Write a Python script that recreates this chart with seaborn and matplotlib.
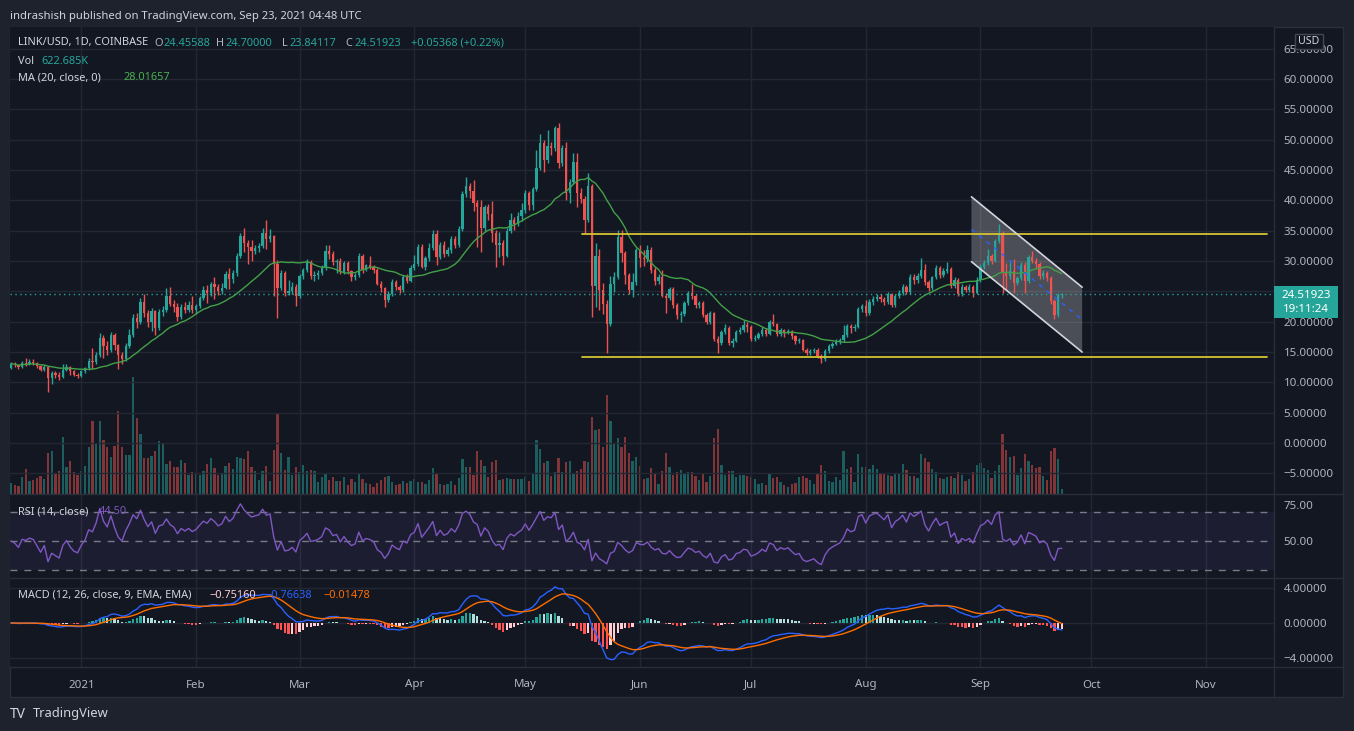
import numpy as np
import pandas as pd
import matplotlib
matplotlib.use("Agg")
import matplotlib.pyplot as plt
import matplotlib.dates as mdates
from matplotlib.patches import Rectangle, Polygon
from matplotlib.lines import Line2D
from matplotlib.ticker import FixedLocator, FuncFormatter
import seaborn as sns

# ---------------- data (LINK/USD daily, Coinbase) ----------------
start_date = "2020-12-13"
first_open = 12.4
close = [13.1,12.9,12.5,13.2,13.1,13.3,13.2,12.7,12.1,12.6,
         10.8,11.5,11.2,10.9,12.0,12.5,11.8,11.3,11.1,11.8,
         12.3,13.5,13.3,14.5,17.4,16.0,15.3,17.8,16.1,14.5,
         13.8,16.0,17.8,20.7,20.0,23.3,21.5,20.0,21.7,19.0,
         21.6,22.0,24.3,23.0,22.4,20.8,22.5,21.9,22.7,22.0,
         22.6,23.9,25.2,24.8,26.3,25.8,25.0,25.6,27.9,27.0,
         28.0,30.9,34.1,33.0,32.3,31.7,32.1,32.5,34.6,33.6,
         34.1,29.5,25.6,28.0,24.8,25.0,25.8,24.2,27.5,28.5,
         29.9,27.5,27.7,28.1,28.9,31.7,31.2,29.8,30.1,28.2,
         29.7,28.3,27.3,27.7,30.9,28.6,29.3,29.0,28.5,26.3,
         25.5,23.6,24.6,26.6,25.8,25.3,27.3,26.8,28.9,29.6,
         32.3,29.0,30.5,32.2,34.5,30.7,32.7,31.2,31.8,33.6,
         32.7,35.3,41.1,42.4,41.6,39.6,38.9,35.4,38.9,37.7,
         34.6,32.6,33.0,30.9,35.0,36.8,36.1,37.5,38.5,41.2,
         39.3,41.9,45.4,49.5,46.7,48.9,48.6,52.0,46.1,48.7,
         41.2,43.1,46.4,41.2,40.2,36.8,42.4,25.9,30.8,25.2,
         22.9,19.7,26.2,27.4,33.9,31.4,27.7,25.2,26.6,31.8,
         30.5,30.3,31.9,28.6,26.7,27.4,24.3,23.9,25.4,22.8,
         21.1,21.3,23.1,24.8,24.2,22.7,23.1,21.1,20.0,21.4,
         17.1,16.5,18.3,19.0,16.5,16.8,18.3,18.6,19.5,19.2,
         17.1,17.4,17.9,18.7,18.0,20.0,19.6,18.0,18.6,18.2,
         18.5,17.6,16.8,17.0,15.4,14.9,15.1,15.3,14.4,13.9,
         15.2,16.0,16.4,16.7,17.0,17.8,19.3,18.9,19.2,22.1,
         22.6,21.5,23.3,23.8,24.1,23.7,23.3,24.5,22.8,24.2,
         24.8,25.8,24.9,27.4,26.9,27.6,28.5,26.5,25.5,27.3,
         28.9,27.7,28.3,28.7,25.9,26.9,24.6,25.8,25.3,25.8,
         24.8,26.9,29.1,29.7,30.9,30.1,33.3,34.6,28.2,27.5,
         28.3,26.4,27.2,29.4,26.8,30.6,30.1,29.5,27.5,28.1,
         27.2,23.4,21.1,24.45588,24.51923]
high = [13.4,13.3,13.0,13.5,14.0,13.8,13.8,13.4,12.9,12.9,
        12.7,11.8,11.9,11.7,13.0,13.0,12.7,12.0,11.5,12.0,
        12.5,14.0,15.6,15.0,18.2,17.8,16.9,18.3,18.2,16.4,
        15.0,16.5,18.8,21.2,21.4,23.9,24.5,22.0,22.3,22.0,
        22.1,22.6,25.5,25.8,23.6,23.1,23.0,23.2,23.4,24.3,
        23.0,24.2,25.9,26.1,26.6,27.4,26.3,26.4,28.4,28.8,
        28.5,31.3,34.6,35.4,33.5,33.4,32.6,33.0,35.4,36.7,
        35.3,34.3,30.2,28.6,28.3,26.9,26.5,26.3,27.9,28.9,
        30.4,30.2,28.3,28.6,29.3,32.6,32.6,31.6,30.4,30.5,
        30.0,30.0,28.6,28.1,31.4,31.1,29.6,30.8,29.4,28.8,
        26.8,25.8,25.0,27.0,26.9,26.1,27.7,27.8,29.3,31.0,
        32.8,32.8,30.9,33.0,35.2,35.2,33.1,33.3,32.4,34.1,
        34.1,35.8,41.6,43.8,42.9,43.4,40.0,40.0,39.2,39.4,
        39.9,35.2,34.8,33.4,35.4,38.0,37.2,38.1,39.6,41.8,
        41.6,42.3,48.3,51.0,49.9,51.6,49.6,52.3,52.8,49.2,
        49.6,43.5,47.8,47.8,42.0,40.8,44.6,42.7,33.0,32.0,
        26.4,23.6,27.6,28.2,35.1,35.1,31.7,28.1,28.0,32.2,
        32.7,31.8,32.6,32.3,29.0,27.9,28.5,24.8,25.8,25.7,
        23.1,21.7,23.5,25.1,26.3,24.5,23.5,23.4,21.4,21.8,
        21.6,17.6,18.6,19.6,19.3,17.4,18.6,19.2,20.3,19.9,
        19.4,17.8,18.3,19.1,18.9,20.3,21.3,19.8,18.9,18.8,
        18.8,18.6,17.8,17.3,17.2,15.7,15.5,15.6,15.6,14.7,
        15.5,16.4,16.7,17.2,17.4,19.5,19.6,19.6,19.6,22.5,
        23.0,23.6,23.7,24.2,24.6,24.5,24.0,24.9,24.8,24.5,
        25.2,26.2,26.1,27.8,27.9,28.1,30.5,29.6,26.9,27.6,
        29.3,29.2,28.8,29.8,29.0,27.3,27.2,26.2,26.1,26.2,
        26.0,27.3,29.6,30.2,32.0,31.2,33.7,36.1,34.9,29.7,
        29.8,30.3,27.6,29.9,29.9,31.0,31.6,30.5,29.8,28.6,
        28.4,27.5,23.7,24.8,24.70]
low = [12.2,12.6,12.2,12.3,12.7,12.9,12.9,12.4,11.8,11.9,
       8.5,9.8,10.8,10.4,10.7,11.8,11.2,11.0,10.8,10.9,
       11.5,12.0,12.2,13.0,14.2,14.0,14.6,15.0,15.4,12.2,
       13.0,13.5,15.7,17.5,18.9,19.6,20.8,19.2,18.5,17.8,
       18.6,20.9,21.6,22.6,21.6,20.2,20.5,21.5,21.6,21.4,
       21.2,22.3,23.6,23.1,24.3,23.8,24.4,24.5,25.4,25.4,
       26.4,27.6,30.5,31.5,29.6,30.0,31.2,31.5,32.2,32.0,
       33.2,24.2,20.6,25.2,24.2,24.4,24.6,22.6,23.9,27.1,
       28.2,27.0,26.7,27.0,27.7,28.6,30.4,29.3,28.1,27.8,
       27.9,27.9,26.8,26.9,27.4,28.1,28.3,28.7,28.0,26.0,
       24.9,22.5,23.3,24.3,25.3,24.8,24.9,26.4,26.5,28.5,
       29.2,28.8,28.6,30.1,31.9,29.3,30.4,30.6,30.8,31.4,
       32.2,32.4,35.0,40.6,40.4,38.3,32.4,31.5,34.9,36.8,
       33.2,29.0,30.6,29.4,30.6,34.7,35.2,35.8,36.6,38.0,
       38.4,38.5,41.5,45.0,44.7,46.2,47.5,48.2,45.4,45.6,
       40.1,39.5,42.7,39.0,39.5,34.7,36.4,20.8,22.5,21.9,
       21.3,14.8,19.3,24.9,27.0,29.9,26.3,24.5,24.0,26.0,
       29.0,29.2,29.9,28.1,26.0,26.2,24.0,21.5,23.6,22.2,
       20.5,19.9,21.0,22.8,23.8,22.3,22.3,20.8,19.6,19.7,
       16.8,14.8,16.2,17.9,16.2,15.9,16.6,18.0,18.3,18.3,
       16.9,16.9,17.2,17.6,17.6,17.8,19.3,17.6,17.7,17.5,
       17.9,17.2,16.3,16.5,15.1,14.5,14.6,14.8,14.0,13.2,
       13.6,14.9,15.7,16.1,16.4,16.7,17.5,18.2,18.5,18.9,
       21.6,21.0,21.1,22.8,23.5,23.2,22.8,23.0,22.4,22.5,
       23.9,24.4,24.5,24.6,26.3,26.4,27.2,26.0,25.0,25.2,
       27.0,27.2,27.4,28.0,25.5,25.6,24.2,24.3,24.9,24.9,
       24.0,24.5,26.6,28.7,29.4,29.6,29.8,33.0,24.7,25.3,
       27.0,24.8,26.0,26.9,24.8,26.4,29.7,28.9,27.0,27.1,
       26.8,23.0,20.5,20.8,23.84]
volume_k = [1370,1120,1000,2120,3110,1620,1740,1990,2240,1870,
            5100,5350,2490,2860,7100,3360,4110,2740,2370,2860,
            3490,5850,9090,6230,9090,6720,5850,4610,5980,10330,
            5850,4860,4860,14570,9460,7470,4480,4480,4730,5350,
            6600,6350,3740,4110,3360,3360,4230,3860,2370,2740,
            2490,2370,2860,3740,4480,3240,2370,2490,3490,3860,
            3110,4610,4480,4360,5350,3360,2860,1740,2860,3490,
            1620,5480,9960,5100,2990,4610,2370,3360,2740,3610,
            2860,2990,2860,1490,2120,2610,1740,2120,1620,1620,
            2120,1120,1870,1490,2610,1870,1370,1250,870,1370,
            1740,2120,2240,1490,1120,1250,1620,1370,1620,1870,
            1490,1490,1250,1740,3240,2610,1250,1120,1250,1620,
            1120,1990,4360,3360,3360,2370,5350,4230,3490,2120,
            3980,4230,1740,1870,1990,1870,1870,1870,1870,2120,
            1620,2610,6720,5600,3860,4110,2240,2740,4480,2740,
            3980,4110,2490,2860,3110,4110,3980,9590,7970,8090,
            5850,12330,9090,6230,6970,5850,7100,5100,4110,4610,
            3490,1870,1990,3240,2490,1250,2860,5100,3360,2370,
            2740,2990,2610,2740,2740,2240,1740,2610,1490,2240,
            6970,8090,3610,2370,2860,2860,2120,2370,2370,2240,
            2120,1870,1250,1370,1120,2490,1990,2120,1490,1120,
            870,1250,1370,2120,2240,1990,1740,1250,2490,3610,
            2860,1620,1490,2120,1740,5350,3110,3360,1490,4980,
            3360,3360,3110,3610,3110,2490,2490,2370,2240,2490,
            2490,3740,2990,2240,2240,1990,4980,4480,3980,3110,
            2740,1990,1870,2120,2240,1990,2740,2370,1620,1870,
            2740,3610,3860,3240,2990,1990,2860,3610,7470,5480,
            4610,4730,2370,3240,4980,4110,3610,3240,3360,2240,
            1740,5350,5730,4360,623]

month_labels = ["2021", "Feb", "Mar", "Apr", "May", "Jun", "Jul", "Aug", "Sep", "Oct", "Nov"]
month_starts = ["2021-01-01", "2021-02-01", "2021-03-01", "2021-04-01", "2021-05-01", "2021-06-01",
                "2021-07-01", "2021-08-01", "2021-09-01", "2021-10-01", "2021-11-01"]
price_ticks = [-5, 0, 5, 10, 15, 20, 25, 30, 35, 40, 45, 50, 55, 60, 65]
hidden_price_labels = [25]          # covered by the last-price tag in the reference
rsi_ticks = [75, 50]
macd_ticks = [4, 0, -4]

# drawings on the chart
level_prices = [34.5, 14.2]
level_span = ["2021-05-16 08:00", "2021-11-17 12:00"]
channel_dates = ["2021-08-29 14:00", "2021-09-28 12:00"]
channel_upper = [40.6, 25.7]
channel_lower = [29.9, 15.0]

header_text = "indrashish published on TradingView.com, Sep 23, 2021 04:48 UTC"
last_price_label = ["24.51923", "19:11:24"]

# ---------------- style ----------------
sns.set_theme(style="dark")
plt.rcParams['font.family'] = ['Noto Sans', 'DejaVu Sans']
BG = '#131722'
FRAME = '#1e222d'
GRID = '#232733'
SEP = '#2a2e39'
TXT = '#b2b5be'
LBL = '#d1d4dc'
UP = '#26a69a'
DN = '#ef5350'
FS = 7.9

W, H = 1354, 731
fig = plt.figure(figsize=(W / 100, H / 100), dpi=100, facecolor=FRAME)


def fx(x):
    return x / W


def fy(y):
    return 1 - y / H


def rect(x0, y0, x1, y1):
    return [fx(x0), fy(y1), fx(x1) - fx(x0), fy(y0) - fy(y1)]


fig.patches.append(Rectangle((fx(10), fy(697)), fx(1343) - fx(10), fy(27) - fy(697),
                             transform=fig.transFigure, facecolor=BG, edgecolor=SEP, lw=1, zorder=-10))

n = min(len(close), len(high), len(low), len(volume_k))
c = np.array(close[:n])
o = np.array([first_open] + close[:n - 1])
hi = np.array(high[:n])
lo = np.array(low[:n])
vol = np.array(volume_k[:n])
dates = pd.date_range(start_date, periods=n, freq="D")
x = mdates.date2num(dates)
d0 = x[0]
xlim = (d0 - 0.27, d0 + 341.35)
mx = mdates.date2num(pd.to_datetime(month_starts))
up = c >= o
cols = np.where(up, UP, DN)

ax_vol = fig.add_axes(rect(10, 27, 1274, 494), zorder=1)
ax = fig.add_axes(rect(10, 27, 1274, 494), zorder=2)
ax_rsi = fig.add_axes(rect(10, 494, 1274, 578), zorder=1)
ax_macd = fig.add_axes(rect(10, 578, 1274, 667), zorder=1)

for a in (ax_vol, ax, ax_rsi, ax_macd):
    a.set_xlim(*xlim)
    for s_ in a.spines.values():
        s_.set_visible(False)
    a.set_facecolor(BG)
    a.xaxis.set_major_locator(FixedLocator(mx))
    a.tick_params(axis='both', length=0, labelsize=FS + 0.4, labelcolor=TXT)
ax.patch.set_visible(False)

# volume
ax_vol.bar(x, vol, width=0.62, color=cols, alpha=0.5, linewidth=0, zorder=2)
ax_vol.set_ylim(0, 58000)
ax_vol.set_yticks([])
ax_vol.set_xticklabels([])
ax_vol.grid(False)

# price pane
ax.set_ylim(-8.4, 68.6)
ax.yaxis.tick_right()
ax.set_yticks(price_ticks)
ax.yaxis.set_major_formatter(FuncFormatter(
    lambda v, p: "" if round(v) in hidden_price_labels else f"{v:.5f}".replace('-', '\u2212')))
ax.tick_params(axis='y', pad=7)
ax.set_xticklabels([])
ax.grid(True, color=GRID, lw=1, zorder=0)

ax.vlines(x, lo, hi, colors=cols, lw=1, zorder=3)
ax.bar(x, np.maximum(np.abs(c - o), 0.12), bottom=np.minimum(o, c), width=0.62,
       color=cols, linewidth=0, zorder=4)

ma = pd.Series(c).rolling(20, min_periods=1).mean()
sns.lineplot(x=x, y=ma.values, ax=ax, color='#43a047', lw=1, zorder=5)

# horizontal levels
lx = mdates.date2num(pd.to_datetime(level_span))
for lp in level_prices:
    ax.plot(lx, [lp, lp], color='#d4c431', lw=1.3, zorder=6)

# parallel channel
cx = mdates.date2num(pd.to_datetime(channel_dates))
poly = Polygon([[cx[0], channel_upper[0]], [cx[1], channel_upper[1]],
                [cx[1], channel_lower[1]], [cx[0], channel_lower[0]]],
               closed=True, facecolor='white', alpha=0.24, edgecolor='none', zorder=2)
ax.add_patch(poly)
ax.plot(cx, channel_upper, color=LBL, lw=1.2, zorder=7)
ax.plot(cx, channel_lower, color=LBL, lw=1.2, zorder=7)
ax.plot([cx[0], cx[1]], [(channel_upper[0] + channel_lower[0]) / 2, (channel_upper[1] + channel_lower[1]) / 2],
        color='#2962ff', lw=1, ls=(0, (3, 4)), zorder=7)

# last price dotted line
ax.axhline(c[-1], color=UP, lw=1, ls=(0, (1, 2.5)), zorder=6)

# RSI (Wilder smoothing; history before the first bar treated as neutral)
s = pd.Series(c)
delta = s.diff().fillna(0).values
seed = np.abs(delta[1:15]).mean() / 2
ag_v, al_v = seed, seed
rsi_vals = []
for dlt in delta:
    ag_v = (ag_v * 13 + max(dlt, 0)) / 14
    al_v = (al_v * 13 + max(-dlt, 0)) / 14
    rsi_vals.append(100 - 100 / (1 + ag_v / al_v))
rsi = np.array(rsi_vals)
ax_rsi.set_ylim(24.3, 82.6)
ax_rsi.axhspan(30, 70, color='#7e57c2', alpha=0.1, lw=0)
for lv in (70, 50, 30):
    ax_rsi.axhline(lv, color='#787b86', lw=1, ls=(0, (5, 5)))
sns.lineplot(x=x, y=rsi, ax=ax_rsi, color='#7e57c2', lw=1, zorder=5)
ax_rsi.yaxis.tick_right()
ax_rsi.set_yticks(rsi_ticks)
ax_rsi.yaxis.set_major_formatter(FuncFormatter(lambda v, p: f"{v:.2f}"))
ax_rsi.tick_params(axis='y', pad=7)
ax_rsi.set_xticklabels([])
ax_rsi.grid(True, axis='x', color=GRID, lw=1)
ax_rsi.grid(False, axis='y')

# MACD
ema12 = s.ewm(span=12, adjust=False).mean()
ema26 = s.ewm(span=26, adjust=False).mean()
macd = ema12 - ema26
signal = macd.ewm(span=9, adjust=False).mean()
hist = macd - signal
prev = hist.shift(1).fillna(0)
hcols = np.where(hist >= 0, np.where(hist >= prev, '#26a69a', '#b2dfdb'),
                 np.where(hist < prev, '#ff5252', '#ffcdd2'))
ax_macd.set_ylim(-5.03, 5.14)
ax_macd.bar(x, hist.values, width=0.62, color=hcols, linewidth=0, zorder=3)
sns.lineplot(x=x, y=macd.values, ax=ax_macd, color='#2962ff', lw=1, zorder=5)
sns.lineplot(x=x, y=signal.values, ax=ax_macd, color='#ff6d00', lw=1, zorder=5)
ax_macd.yaxis.tick_right()
ax_macd.set_yticks(macd_ticks)
ax_macd.yaxis.set_major_formatter(FuncFormatter(lambda v, p: f"{v:.5f}".replace('-', '\u2212')))
ax_macd.tick_params(axis='y', pad=7)
ax_macd.set_xticklabels(month_labels)
ax_macd.tick_params(axis='x', pad=9, labelsize=FS + 0.4, labelcolor=TXT)
ax_macd.grid(True, color=GRID, lw=1)

# separators
for yy in (494, 578, 667):
    fig.add_artist(Line2D([fx(10), fx(1343)], [fy(yy), fy(yy)], color=SEP, lw=1,
                          transform=fig.transFigure, zorder=3))
fig.add_artist(Line2D([fx(1274), fx(1274)], [fy(27), fy(697)], color=SEP, lw=1,
                      transform=fig.transFigure, zorder=3))


def t(xp, yp, s, color=TXT, size=FS, weight='normal', ha='left'):
    fig.text(fx(xp), fy(yp), s, color=color, fontsize=size, fontweight=weight, ha=ha, va='center', zorder=20)


# header & legends
t(10, 16, header_text, color=LBL, size=8.1)
t(18, 43, "LINK/USD, 1D, COINBASE", color=LBL)
legend_parts = [(154, "O", TXT), (163, "24.45588", UP), (216, "H", TXT), (225, "24.70000", UP),
                (282, "L", TXT), (289, "23.84117", UP), (345, "C", TXT), (354, "24.51923", UP),
                (411, "+0.05368 (+0.22%)", UP)]
for xp, s_, col in legend_parts:
    t(xp, 43, s_, color=col)
t(18, 61, "Vol", color=LBL)
t(41, 61, "622.685K", color=UP)
t(18, 78, "MA (20, close, 0)", color=LBL)
t(124, 78, "28.01657", color='#4caf50')
t(18, 512, "RSI (14, close)", color=LBL)
t(99, 512, "44.50", color='#7e57c2')
t(18, 595, "MACD (12, 26, close, 9, EMA, EMA)", color=LBL)
t(210, 595, "\u22120.75160", color='#ffcdd2')
t(265, 595, "\u22120.76638", color='#2962ff')
t(323, 595, "\u22120.01478", color='#ff6d00')

# USD box
fig.patches.append(Rectangle((fx(1295), fy(49)), fx(1323) - fx(1295), fy(34) - fy(49),
                             transform=fig.transFigure, facecolor=BG, edgecolor='#434651', lw=1, zorder=10))
t(1309, 41.5, "USD", color=LBL, size=7.6, ha='center')

# last price tag
fig.patches.append(Rectangle((fx(1274), fy(318)), fx(1338) - fx(1274), fy(286) - fy(318),
                             transform=fig.transFigure, facecolor=UP, edgecolor='none', zorder=10))
t(1306, 295, last_price_label[0], color='white', size=FS + 0.4, ha='center')
t(1306, 310, last_price_label[1], color='white', size=FS + 0.4, ha='center')

# footer logo
t(10, 714, "TV", color=LBL, size=10, weight='bold')
t(33, 714, "TradingView", color=LBL, size=9.3, weight='bold')

fig.savefig("out.png", dpi=100, facecolor=FRAME)
